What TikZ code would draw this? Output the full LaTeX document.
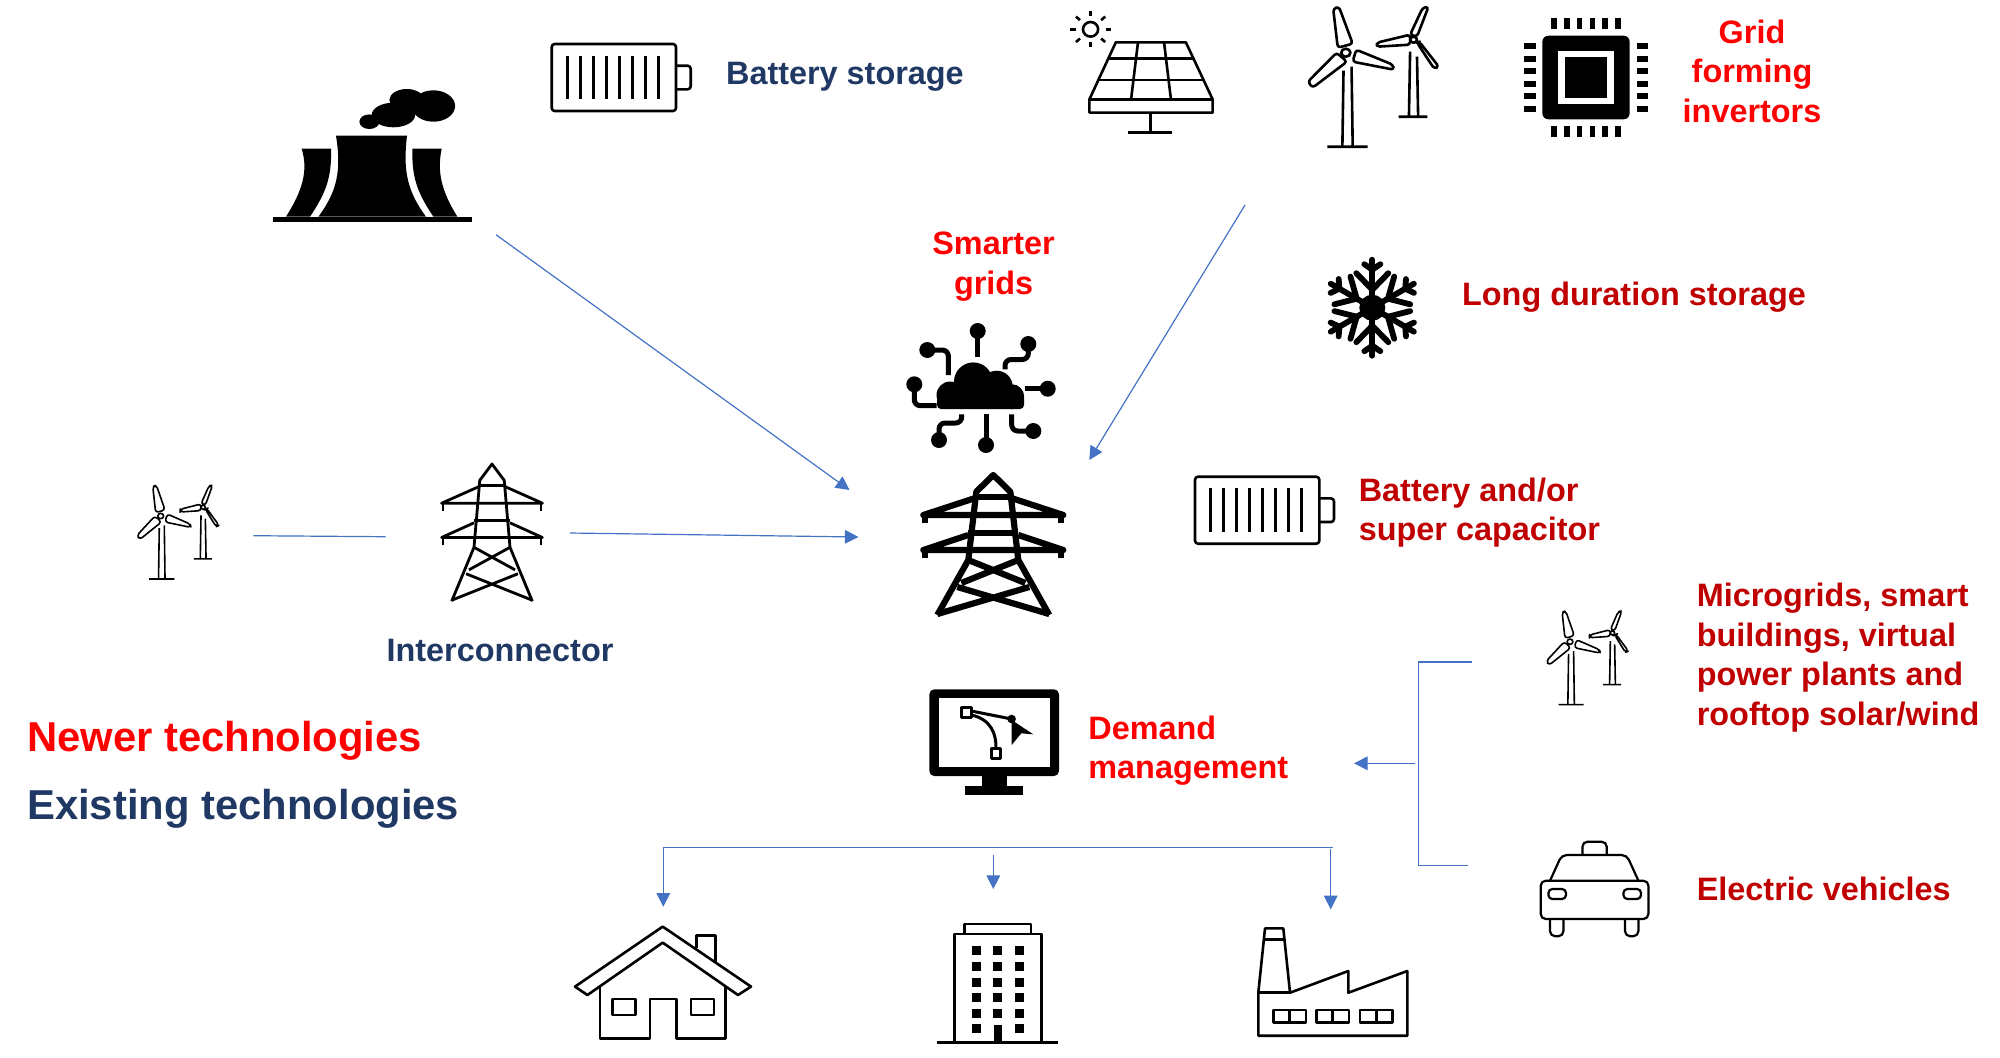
\documentclass[tikz,border=0pt]{standalone}
\usepackage{fontspec}
\setmainfont{Liberation Sans}
\usetikzlibrary{arrows.meta, positioning}
\definecolor{flowblue}{RGB}{68, 114, 196}
\definecolor{newred}{RGB}{255, 0, 0}
\definecolor{darkred}{RGB}{192, 0, 0}
\definecolor{oldnavy}{RGB}{31, 56, 100}
\tikzset{
    iconline/.style={draw=black, line join=round},
    textlabel/.style={font=\fontsize{16.2}{19.7}\selectfont\bfseries, inner sep=0pt, align=left, anchor=west},
    legendlabel/.style={font=\fontsize{20.9}{24}\selectfont\bfseries, inner sep=0pt, anchor=west},
    flowline/.style={flowblue, line width=0.6pt},
    flowarrow/.style={flowline, -{Triangle[length=6.8pt, width=6.8pt]}},
    windpair/.pic={
        \draw[iconline, rounded corners=1.5pt] (-7,-5) -- (-11,-44) -- (-6,-46) -- (6,-9) -- cycle;
        \draw[iconline, rounded corners=1.5pt] (9,-3) -- (41,12) -- (42,17) -- (6,9) -- cycle;
        \draw[iconline, rounded corners=1.5pt] (-8,0) -- (-33,29) -- (-29,35) -- (1,9) -- cycle;
        \draw[iconline, fill=white] (0,0) circle (4);
        \draw[iconline] (-2,18) -- (-3,94) (5,14) -- (6,94) (-16,94) -- (19,94);
        \draw[iconline, rounded corners=1.5pt] (56,-18) -- (67,-45) -- (72,-46) -- (62,-16) -- cycle;
        \draw[iconline, rounded corners=1.5pt] (56,-18) -- (27,-10) -- (27,-6) -- (56,-8) -- cycle;
        \draw[iconline, rounded corners=1.5pt] (62,-10) -- (77,16) -- (81,14) -- (64,-11) -- cycle;
        \draw[iconline, fill=white] (59,-13) circle (3);
        \draw[iconline] (56,-1) -- (55,64) (62,4) -- (63,64) (46,64) -- (71,64);
    },
    batterypack/.pic={
        \draw[iconline, rounded corners=1.5pt] (0,0) rectangle (124.3,67);
        \draw[iconline, rounded corners=1.5pt] (124.3,21.7) -- (139,21.7) -- (139,45.3) -- (124.3,45.3);
        \foreach \i in {0,...,7}
            \draw[iconline] (15.7+13*\i,11.7) -- (15.7+13*\i,55);
    },
    pylon/.pic={
        \draw[iconline] (-25,85) -- (-17,16.7) -- (0,0) -- (17,16.7) -- (25,85) -- (56,140) (-25,85) -- (-56,140);
        \draw[iconline] (-17,22) -- (17,22) (-25,58) -- (25,58);
        \draw[iconline] (-18,23) -- (-70,40) -- (70,40) -- (18,23) (-25,60) -- (-70,75) -- (70,75) -- (25,60);
        \draw[iconline] (-68,40) -- (-68,48) (68,40) -- (68,48) (-68,75) -- (-68,83) (68,75) -- (68,83);
        \draw[iconline] (-25,85) -- (32,108) (25,85) -- (-32,108) (-36,112) -- (56,139) (36,112) -- (-56,139);
    },
    coalplant/.pic={
        \fill (-99,0) rectangle (100,5.7);
        \fill (-35.7,-81) .. controls (-30,-45) and (-35,-25) .. (-53.3,0) -- (54.3,0) .. controls (36,-25) and (31,-45) .. (35.3,-81) -- cycle;
        \fill (-70,-68) -- (-40.7,-68) .. controls (-40,-40) and (-45,-25) .. (-61.7,0) -- (-85.7,0) .. controls (-70,-25) and (-63,-45) .. (-70,-68) -- cycle;
        \fill (40.7,-68) -- (70,-68) .. controls (65,-45) and (70,-25) .. (85.7,0) -- (61.7,0) .. controls (45,-25) and (40,-40) .. (40.7,-68) -- cycle;
        \fill (-2.3,-95) ellipse (10 and 7.3);
        \fill (21.7,-101.7) ellipse (21.7 and 12.3);
        \fill (35,-116.7) ellipse (17.3 and 11);
        \fill (61.7,-110.7) ellipse (21.7 and 15.7);
    },
    solarpanel/.pic={
        \draw[iconline] (-30.3,-57) -- (30.7,-57) -- (54,0) -- (54,13.3) -- (-53.3,13.3) -- (-53.3,0) -- cycle;
        \draw[iconline] (-53.3,0) -- (54,0) (-36.8,-41) -- (37.3,-41) (-45.5,-19.3) -- (46.1,-19.3);
        \draw[iconline] (-11,-57) -- (-17,0) (11.7,-57) -- (17.7,0);
        \draw[iconline] (0,13.3) -- (0,33) (-19.3,33) -- (19,33);
        \draw[iconline] (-52.3,-70) ellipse (6.6 and 7.3);
        \foreach \a in {0,45,...,315}
            \draw[iconline, rotate around={\a:(-52.3,-70)}] (-39.3,-70) -- (-34.3,-70);
    },
    chipicon/.pic={
        \fill[rounded corners=3pt] (-38,-41.8) rectangle (38,41.8);
        \fill[white] (-24.3,-26.5) rectangle (24.7,26.8);
        \fill (-18,-20.2) rectangle (18.7,20.2);
        \foreach \x in {-28,-16.8,-5.6,5.6,16.8,28} {
            \fill (\x-2.5,-59.2) rectangle (\x+2.5,-48.2);
            \fill (\x-2.5,48.5) rectangle (\x+2.5,59.2);
        }
        \foreach \y in {-31.25,-18.75,-6.25,6.25,18.75,31.25} {
            \fill (-53.7,\y-3) rectangle (-43.7,\y+3);
            \fill (44,\y-3) rectangle (54,\y+3);
        }
    },
    snowicon/.pic={
        \fill (0,0) circle (13);
        \foreach \a in {0,60,...,300} {
            \begin{scope}[rotate=\a]
                \draw[iconline, line cap=round] (0,0) -- (0,-48);
                \draw[iconline, line cap=round] (-16,-34.5) -- (0,-18) -- (16,-34.5);
                \draw[iconline, line cap=round] (-8,-43.5) -- (0,-38) -- (8,-43.5);
            \end{scope}
        }
    },
    cloudicon/.pic={
        \fill (-30,5) circle (13.5);
        \fill (-6.7,-8.3) circle (19.3);
        \fill (16.7,-3.3) circle (16);
        \fill (31.7,6.7) circle (12.5);
        \fill[rounded corners=2pt] (-43,5) rectangle (44,19);
        \draw[iconline] (-2.3,-59) -- (-2.3,-33.3);
        \fill (-2.3,-59) circle (8);
        \draw[iconline, rounded corners=3pt] (-52.7,-40) -- (-31.7,-40) -- (-31.7,-15);
        \fill (-52.7,-40) circle (8);
        \draw[iconline, rounded corners=3pt] (-65.7,-5.7) -- (-65.7,15.7) -- (-43.3,15.7);
        \fill (-65.7,-5.7) circle (8);
        \draw[iconline, rounded corners=3pt] (48.3,-46) -- (48.3,-30.5) -- (25,-30.5) -- (25,-20.7);
        \fill (48.3,-46) circle (8);
        \draw[iconline] (67.7,-1.3) -- (45,-1.3);
        \fill (67.7,-1.3) circle (8);
        \draw[iconline, rounded corners=3pt] (-41,50) -- (-41,33) -- (-18.3,33) -- (-18.3,24.3);
        \fill (-41,50) circle (8);
        \draw[iconline] (6,55) -- (6,24.3);
        \fill (6,55) circle (8);
        \draw[iconline, rounded corners=3pt] (31.7,24.3) -- (31.7,41) -- (53.3,41);
        \fill (53.3,41) circle (8);
    },
    monitoricon/.pic={
        \fill[rounded corners=2.5pt] (0,0) rectangle (129.7,86.7);
        \fill[white] (9.3,9) rectangle (120.3,77.3);
        \fill (52.3,86.7) rectangle (77.3,96.7);
        \fill (35.7,96.7) rectangle (94,105.3);
        \draw[iconline] (42,25.7) .. controls (62,30) and (67,45) .. (66.7,59);
        \draw[iconline] (42,21.7) -- (82.3,29.7);
        \draw[iconline, fill=white] (31.7,18) rectangle (41.7,28);
        \draw[iconline, fill=white] (62,59) rectangle (71.3,69);
        \fill (82.3,29.7) circle (4.3);
        \fill (82.3,30.7) -- (104,45) -- (92,44) -- (82.3,55.7) -- cycle;
    },
    officeicon/.pic={
        \draw[iconline] (-60.3,0) -- (60.7,0) (-43.3,0) -- (-43.3,-108.3) -- (44,-108.3) -- (44,0);
        \draw[iconline] (-33.3,-108.3) -- (-33.3,-118.3) -- (33.3,-118.3) -- (33.3,-108.3);
        \foreach \x in {-21.7,0,21.7}
            \foreach \y in {-91.7,-76,-60.3,-45,-29.3}
                \fill (\x-4.5,\y-4.5) rectangle (\x+4.5,\y+4.5);
        \fill (-26.2,-18.2) rectangle (-17.2,-9.2);
        \fill (17.2,-18.2) rectangle (26.2,-9.2);
        \fill (-4,-17.3) rectangle (4,0);
    },
    houseicon/.pic={
        \draw[iconline] (0,-111.7) -- (-87.7,-51.7) -- (-75.3,-43.3) -- (0,-95.7) -- (75.3,-43.3) -- (88.3,-51.7) -- cycle;
        \draw[iconline] (-62.7,-51.7) -- (-62.7,0) -- (-12.7,0) -- (-12.7,-39.3) -- (14,-39.3) -- (14,0) -- (63,0) -- (63,-51.7);
        \draw[iconline] (-50.3,-39.3) rectangle (-27,-23.3) (28.3,-39.3) rectangle (51.3,-23.3);
        \draw[iconline] (34,-90) -- (34,-102.7) -- (53,-102.7) -- (53,-75);
    },
    factoryicon/.pic={
        \draw[iconline] (0,0) -- (0,-43) -- (6.7,-107.3) -- (25,-107.3) -- (31.7,-43) -- (90,-64.7) -- (90,-43) -- (149,-64.7) -- (149,0) -- cycle;
        \draw[iconline] (0,-43) -- (31.7,-43) (5.7,-96.3) -- (26.7,-96.3);
        \foreach \x in {15,58,101.7} {
            \draw[iconline] (\x,-25.7) rectangle (\x+32.5,-13);
            \draw[iconline] (\x+16.2,-25.7) -- (\x+16.2,-13);
        }
    },
    caricon/.pic={
        \draw[iconline, rounded corners=2.5pt] (0,0) rectangle (107.7,38.3);
        \draw[iconline, rounded corners=2.5pt] (9.3,0) -- (21,-25.7) -- (86,-25.7) -- (97.7,0);
        \draw[iconline, rounded corners=2.5pt] (41.7,-25.7) -- (41.7,-39) -- (66,-39) -- (66,-25.7);
        \draw[iconline, rounded corners=2pt] (7.7,8.3) rectangle (25.3,18.3);
        \draw[iconline, rounded corners=2pt] (82.7,8.3) rectangle (100.3,18.3);
        \draw[iconline, rounded corners=2.5pt] (9.3,38.3) -- (9.3,55.5) -- (22.7,55.5) -- (22.7,38.3);
        \draw[iconline, rounded corners=2.5pt] (84.3,38.3) -- (84.3,55.5) -- (97.7,55.5) -- (97.7,38.3);
    },
}
\begin{document}
\begin{tikzpicture}[x=0.5pt, y=-0.5pt]
    \useasboundingbox (0,0) rectangle (2000,1057);

    \pic[line width=1.15pt] (coal) at (371.7,216.7) {coalplant};
    \pic[line width=1.3pt] (storebat) at (551.7,44) {batterypack};
    \pic[line width=1.3pt, xscale=1.148] (solar) at (1150.6,99.3) {solarpanel};
    \pic[line width=1.3pt, xscale=1.148] (windtop) at (1345.8,52.7) {windpair};
    \pic[xscale=1.148] (chip) at (1586,77.5) {chipicon};
    \pic[line width=2.9pt] (snow) at (1372.3,307.7) {snowicon};
    \pic[line width=2.5pt] (cloud) at (980,390) {cloudicon};
    \pic[line width=3.1pt] (pylonmain) at (993.3,475) {pylon};
    \pic[line width=1.3pt] (superbat) at (1195,476.7) {batterypack};
    \pic[line width=0.8pt, xscale=0.72, yscale=0.67] (windleft) at (160.7,516) {windpair};
    \pic[line width=1.4pt, xscale=0.72, yscale=0.98] (pylonleft) at (492,464) {pylon};
    \pic[line width=0.8pt, xscale=0.72, yscale=0.67] (windmicro) at (1570,641.7) {windpair};
    \pic[line width=1.1pt] (car) at (1540.7,880.7) {caricon};
    \pic[line width=1.5pt] (monitor) at (929.3,689.3) {monitoricon};
    \pic[line width=1.3pt] (house) at (662.7,1038.3) {houseicon};
    \pic[line width=1.3pt] (office) at (997.7,1042.3) {officeicon};
    \pic[line width=1.3pt] (factory) at (1258.3,1035.7) {factoryicon};

    \node[textlabel, text=oldnavy] (storelabel) at (725.7,76.5) {Battery storage};
    \node[textlabel, text=newred, align=center, anchor=center] (chiplabel) at (1752,71.4) {Grid\\forming\\invertors};
    \node[textlabel, text=newred, align=center, anchor=center] (smartlabel) at (993.6,266.5) {Smarter\\grids};
    \node[textlabel, text=darkred] (snowlabel) at (1461.7,297.2) {Long duration storage};
    \node[textlabel, text=darkred] (superlabel) at (1358.4,512.8) {Battery and/or\\super capacitor};
    \node[textlabel, text=darkred] (microlabel) at (1696.4,657.7) {Microgrids, smart\\buildings, virtual\\power plants and\\rooftop solar/wind};
    \node[textlabel, text=darkred] (carlabel) at (1696.4,889) {Electric vehicles};
    \node[textlabel, text=newred] (demandlabel) at (1088,750.5) {Demand\\management};
    \node[textlabel, text=oldnavy, anchor=center] (linklabel) at (500,650) {Interconnector};
    \node[legendlabel, text=newred] (newerlabel) at (26.8,741) {Newer technologies};
    \node[legendlabel, text=oldnavy, below=33.8pt of newerlabel.west, anchor=west] (existlabel) {Existing technologies};

    \coordinate (coalend) at (496,234.7);
    \coordinate (coalhub) at (849.5,490);
    \coordinate (solarend) at (1245,205);
    \coordinate (solarhub) at (1089.3,460);
    \coordinate (windend) at (253.3,535.7);
    \coordinate (linkin) at (385.7,536.7);
    \coordinate (linkout) at (570,533);
    \coordinate (linkhub) at (858.5,537);
    \coordinate (brackettop) at (1472,662);
    \coordinate (bracketcorner) at (1418.3,662);
    \coordinate (bracketlow) at (1418.3,865.5);
    \coordinate (bracketend) at (1468,865.5);
    \coordinate (bracketmid) at (1415,763.3);
    \coordinate (demandin) at (1354,763.3);
    \coordinate (busright) at (1332.7,847.5);
    \coordinate (busleft) at (663.3,847.5);
    \coordinate (housein) at (663.3,906.7);
    \coordinate (officetop) at (993.3,855);
    \coordinate (officein) at (993.3,889);
    \coordinate (factorytop) at (1330.7,849.3);
    \coordinate (factoryin) at (1330.7,909.3);

    \draw[flowarrow] (coalend) -- (coalhub);
    \draw[flowarrow] (solarend) -- (solarhub);
    \draw[flowline] (windend) -- (linkin);
    \draw[flowarrow] (linkout) -- (linkhub);
    \draw[flowline] (brackettop) -- (bracketcorner) -- (bracketlow) -- (bracketend);
    \draw[flowarrow] (bracketmid) -- (demandin);
    \draw[flowarrow] (busright) -- (busleft) -- (housein);
    \draw[flowarrow] (officetop) -- (officein);
    \draw[flowarrow] (factorytop) -- (factoryin);
\end{tikzpicture}
\end{document}
